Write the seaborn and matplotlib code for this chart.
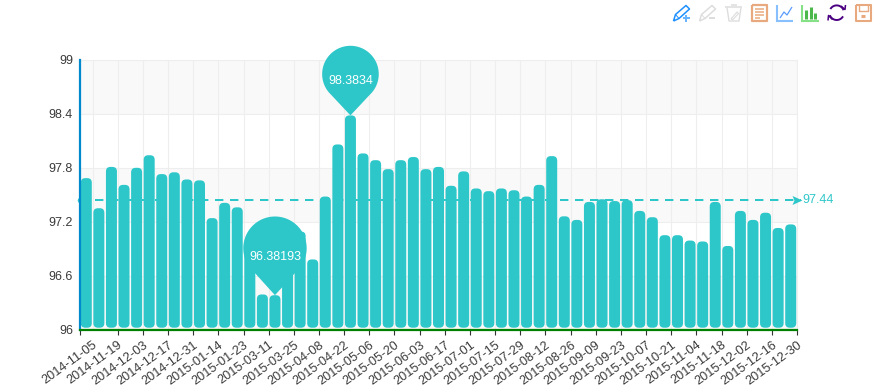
import numpy as np
import matplotlib
matplotlib.use("Agg")
import matplotlib.pyplot as plt
import seaborn as sns
from matplotlib.lines import Line2D
from matplotlib.patches import FancyBboxPatch, Polygon, Rectangle
from matplotlib.path import Path
from matplotlib.transforms import Affine2D, ScaledTranslation

values = [97.685, 97.35, 97.81, 97.61, 97.80, 97.94, 97.73, 97.75, 97.67, 97.66,
          97.24, 97.41, 97.36, 97.00, 96.39, 96.38193, 96.95, 97.09, 96.78, 97.48,
          98.06, 98.3834, 97.96, 97.885, 97.785, 97.885, 97.92, 97.785, 97.81, 97.60,
          97.76, 97.57, 97.54, 97.57, 97.55, 97.48, 97.61, 97.93, 97.26, 97.22,
          97.42, 97.45, 97.43, 97.44, 97.32, 97.25, 97.05, 97.05, 96.99, 96.98,
          97.42, 96.93, 97.32, 97.22, 97.30, 97.13, 97.17]
tick_labels = ["2014-11-05", "2014-11-19", "2014-12-03", "2014-12-17", "2014-12-31",
               "2015-01-14", "2015-01-23", "2015-03-11", "2015-03-25", "2015-04-08",
               "2015-04-22", "2015-05-06", "2015-05-20", "2015-06-03", "2015-06-17",
               "2015-07-01", "2015-07-15", "2015-07-29", "2015-08-12", "2015-08-26",
               "2015-09-09", "2015-09-23", "2015-10-07", "2015-10-21", "2015-11-04",
               "2015-11-18", "2015-12-02", "2015-12-16", "2015-12-30"]
y_ticks = [96, 96.6, 97.2, 97.8, 98.4, 99]
y_tick_labels = ["96", "96.6", "97.2", "97.8", "98.4", "99"]
mean_value = 97.44
max_label = "98.3834"
min_label = "96.38193"

TEAL = "#2EC7C9"
GRID = "#EEEEEE"
BAND = "#F9F9F9"
FONT = "Liberation Sans"
FS = 9.0

sns.set_theme(style="white")
plt.rcParams["font.family"] = FONT
W, H = 876, 388
fig = plt.figure(figsize=(W / 100, H / 100), dpi=100)
ax = fig.add_axes([80 / W, 1 - 329.5 / H, 717 / W, 269.5 / H])

positions = np.arange(len(values))
sns.barplot(x=positions, y=values, color=TEAL, saturation=1, width=0.875, ax=ax, zorder=2)
ax.set_xlim(-0.5, len(values) - 0.5)
ax.set_ylim(96, 99)

# bands and grid
for lo, hi in zip(y_ticks[:-1:2], y_ticks[1::2]):
    ax.axhspan(lo, hi, facecolor=BAND, edgecolor="none", zorder=0)

tick_pos = np.arange(len(tick_labels)) * 2 + 0.5
ax.set_xticks(tick_pos)
ax.set_xticklabels(tick_labels, rotation=36, ha="right", va="top", rotation_mode="anchor",
                   fontsize=9.2, color="#3A3A3A")
ax.set_yticks(y_ticks)
ax.set_yticklabels(y_tick_labels, fontsize=FS, color="#3A3A3A")
ax.tick_params(axis="y", length=0, pad=5)
ax.tick_params(axis="x", length=3.5, width=0.8, color="#333333", pad=3.5, bottom=True)
ax.set_xticks([-0.5], minor=True)
ax.tick_params(axis="x", which="minor", length=3.5, width=0.8, color="#333333", bottom=True)
ax.xaxis.get_major_ticks()[0].tick1line.set_visible(False)
ax.grid(True, color=GRID, linewidth=0.8, zorder=1)
ax.set_axisbelow(True)
ax.set_xlabel("")
for sp in ("top", "right"):
    ax.spines[sp].set_color(GRID)
    ax.spines[sp].set_linewidth(0.8)
    ax.spines[sp].set_zorder(1)
ax.spines["left"].set_color("#008ACD")
ax.spines["left"].set_linewidth(1.6)
ax.spines["bottom"].set_color("#008000")
ax.spines["bottom"].set_linewidth(1.6)
ax.spines["left"].set_zorder(6)
ax.spines["bottom"].set_zorder(6)

# rounded bars built from the seaborn rectangles
x_per_px = 1 / (717 / len(values))
y_per_px = 3 / 269.5
for bar in list(ax.patches):
    if not isinstance(bar, Rectangle) or bar.get_width() > 1:
        continue
    if bar.get_height() < 50:
        continue
    bottom = 96.02
    fb = FancyBboxPatch((bar.get_x(), bottom), bar.get_width(), bar.get_height() - bottom,
                        boxstyle=f"round,pad=0,rounding_size={4.5 * x_per_px}",
                        mutation_aspect=y_per_px / x_per_px,
                        facecolor=TEAL, edgecolor="none", zorder=2)
    ax.add_patch(fb)
    bar.set_visible(False)

# mean line
ax.plot([-0.5, len(values) - 0.5 + 4 / 12.58], [mean_value, mean_value], color=TEAL, lw=1.44,
        linestyle=(0, (4.2, 3.3)), dash_capstyle="butt", clip_on=False, zorder=4)
ax.plot([-0.5], [mean_value], marker="o", ms=4, color=TEAL, mew=0, clip_on=False, zorder=4)
arrow = Path([(-5, -4.5), (5, 0), (-5, 4.5), (-3, 0), (-5, -4.5)],
             [Path.MOVETO, Path.LINETO, Path.LINETO, Path.LINETO, Path.CLOSEPOLY])
ax.plot([len(values) - 0.5], [mean_value], marker=arrow, ms=10 * 0.72, color=TEAL, mew=0,
        clip_on=False, zorder=4)
ax.annotate(f"{mean_value}", xy=(len(values) - 0.5, mean_value), xytext=(3.6, 0),
            textcoords="offset points", color=TEAL, fontsize=FS, ha="left", va="center",
            annotation_clip=False, zorder=5)


def pin(ix, label, radius, dist, text_up):
    """Pin marker in pixels, with its tip on a bar top."""
    val = values[ix]
    half = np.arcsin(radius / dist)
    a = np.linspace(-np.pi / 2 + half, 3 * np.pi / 2 - half, 90)
    px = radius * np.cos(a)
    py = dist + radius * np.sin(a)
    verts = np.column_stack([np.r_[0, px], np.r_[0, py]])
    tr = Affine2D() + ScaledTranslation(ix, val, ax.transData)
    ax.add_patch(Polygon(verts, closed=True, facecolor=TEAL, edgecolor="none",
                         transform=tr, clip_on=False, zorder=7))
    ax.annotate(label, xy=(ix, val), xytext=(0, text_up * 0.72), textcoords="offset points",
                color="white", fontsize=FS, ha="center", va="center",
                annotation_clip=False, zorder=8)


pin(int(np.argmax(values)), max_label, 28.3, 41.3, 34.6)
pin(int(np.argmin(values)), min_label, 31.7, 47, 38.6)

# toolbox icons, in pixels from the top left of the figure
px_tr = Affine2D().scale(1 / W, -1 / H).translate(0, 1) + fig.transFigure


def stroke(xs, ys, color, lw=1.1, close=False, join="round"):
    if close:
        xs, ys = list(xs) + [xs[0]], list(ys) + [ys[0]]
    fig.add_artist(Line2D(xs, ys, color=color, lw=lw, transform=px_tr,
                          solid_joinstyle=join, solid_capstyle="butt"))


def pencil(dx, color):
    stroke(np.array([673.5, 675.5, 686, 689.5, 679, 673.5]) + dx, [21, 14.5, 5.5, 9, 18.5, 21], color, 1.1)
    stroke(np.array([675.5, 679]) + dx, [14.5, 18.5], color, 0.7)


pencil(0, "#1E90FF")
stroke([682.5, 689.5], [18, 18], "#66B3FF", 1.4)
stroke([686, 686], [14.5, 21.5], "#66B3FF", 1.4)
pencil(26, "#DDDDDD")
stroke([709, 715], [18, 18], "#DDDDDD", 1.4)
stroke([725, 742], [7, 7], "#DDDDDD", 1.1)
stroke([730.5, 736.5], [5, 5], "#DDDDDD", 1.1)
stroke([727, 729, 739, 741], [7.5, 21, 21, 7.5], "#DDDDDD", 1.0)
stroke([731, 737, 738.5, 733, 731], [19, 12, 13.5, 19.5, 19], "#DDDDDD", 0.8)

ORANGE = "#E9A97F"
stroke([752, 766.5, 766.5, 752], [5, 5, 21, 21], ORANGE, 1.6, close=True)
for yy, x2 in zip([8.5, 11.5, 15, 18], [763.5, 763.5, 763.5, 760]):
    stroke([755, x2], [yy, yy], ORANGE, 1.1)

stroke([777, 777, 793], [5, 21, 21], "#87BFFF", 1.5, join="miter")
stroke([780, 784, 787, 792], [18, 12, 15, 7], "#5C9CFF", 0.9)

stroke([802, 802, 819], [5, 21, 21], "#86E086", 1.5, join="miter")
for xx, top in zip([806, 810.7, 814.7], [10, 6.7, 13.3]):
    stroke([xx, xx], [top, 19], "#4CB84C", 2.2)

PURPLE = "#4B0082"
cx, cy, r = 836.7, 12.7, 7.3
for a0, a1 in [(200, 330), (20, 150)]:
    a = np.radians(np.linspace(a0, a1, 24))
    stroke(cx + r * np.cos(a), cy - r * np.sin(a), PURPLE, 1.4)
stroke([841, 845, 845.5], [6, 9.5, 5], PURPLE, 1.1)
stroke([828, 828.5, 832.5], [20.5, 15.5, 19.5], PURPLE, 1.1)

stroke([855.5, 870.5, 870.5, 855.5], [5, 5, 21, 21], ORANGE, 1.5, close=True)
stroke([858.5, 858.5, 867.5, 867.5], [5, 11, 11, 5], ORANGE, 1.0)
stroke([861, 865], [16, 16], ORANGE, 2.2)

fig.savefig("out.png", dpi=100, facecolor="white")
